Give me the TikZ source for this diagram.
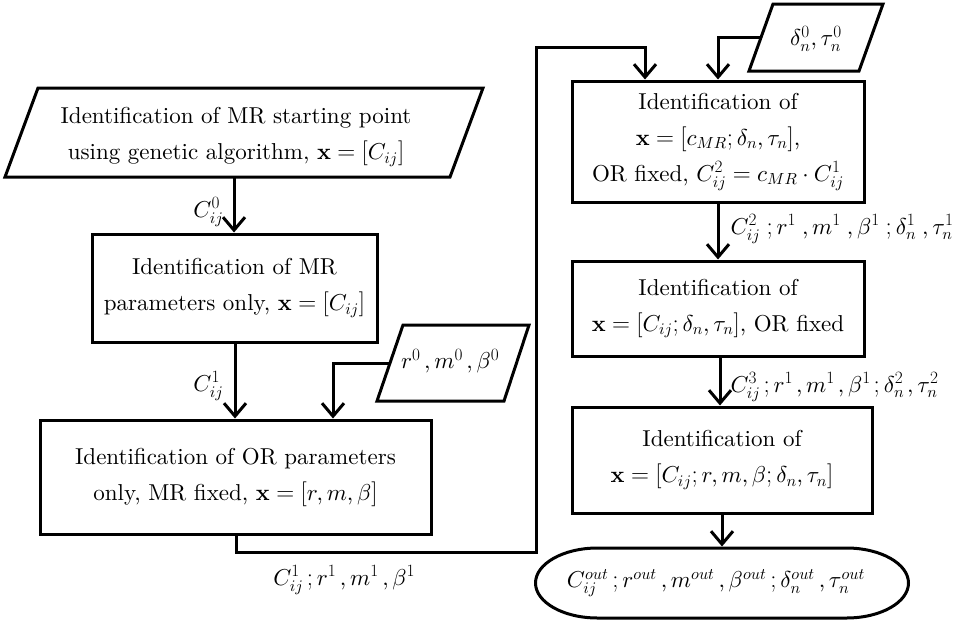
\documentclass[tikz,border=0pt]{standalone}
\usepackage{fontspec}
\setmainfont{lmroman10-regular.otf}[BoldFont=lmroman10-bold.otf, ItalicFont=lmroman10-italic.otf]
\DeclareFontShape{OT1}{cmr}{bx}{n}{<-> cmbx10}{}
\DeclareFontShape{OML}{cmm}{m}{it}{<-> cmmi10}{}
\DeclareFontShape{OMS}{cmsy}{m}{n}{<-> cmsy10}{}
\DeclareFontShape{OMX}{cmex}{m}{n}{<-> cmex10}{}
\newcommand\widescripts[1]{\scriptspace=#1\relax}
\usetikzlibrary{arrows.meta}
\begin{document}
\begin{tikzpicture}[x=1pt,y=-1pt, line width=3pt, line join=miter,
  every node/.style={font=\fontsize{23}{36}\selectfont},
  box/.style={draw, rectangle, align=center, inner sep=0pt},
  para/.style={draw},
  lbl/.style={inner sep=1pt},
  arr/.style={-{Straight Barb[length=13pt,width=22pt]}}]
\useasboundingbox (0,0) rectangle (958,621);

% parallelogram 1
\coordinate (p1a) at (38,88);
\coordinate (p1b) at (483,88);
\coordinate (p1c) at (450,177);
\coordinate (p1d) at (5,177);
\draw[para] (p1a) -- (p1b) -- (p1c) -- (p1d) -- cycle;
\node[align=center] (p1) at (236,137) {Identification of MR starting point\\using genetic algorithm, $\mathbf{x}=[C_{ij}]$};
\coordinate (p1s) at (234,177);

% parallelogram r0
\coordinate (p2a) at (403,325);
\coordinate (p2b) at (529,325);
\coordinate (p2c) at (504,401);
\coordinate (p2d) at (377,401);
\draw[para] (p2a) -- (p2b) -- (p2c) -- (p2d) -- cycle;
\node (p2) at (452,361) {\widescripts{4pt}$r^0,m^0,\beta^0$};
\coordinate (p2w) at (390,363);

% parallelogram delta0
\coordinate (p3a) at (773,4);
\coordinate (p3b) at (883,4);
\coordinate (p3c) at (859,71);
\coordinate (p3d) at (749,71);
\draw[para] (p3a) -- (p3b) -- (p3c) -- (p3d) -- cycle;
\node (p3) at (816,39) {$\delta^0_n,\tau^0_n$};
\coordinate (p3w) at (761,37);

% boxes
\node[box, minimum width=285pt, minimum height=108pt] (b2) at (234.5,288) {Identification of MR\\parameters only, $\mathbf{x}=[C_{ij}]$};
\node[box, minimum width=391pt, minimum height=114pt] (b3) at (235.5,477) {Identification of OR parameters\\only, MR fixed, $\mathbf{x}=[r,m,\beta]$};
\node[box, minimum width=292pt, minimum height=121pt] (b4) at (718,141.5) {Identification of\\$\mathbf{x}=[c_{MR};\delta_n,\tau_n]$,\\OR fixed, $C^2_{ij}=c_{MR}\cdot C^1_{ij}$};
\node[box, minimum width=292pt, minimum height=95pt] (b5) at (718,308.5) {Identification of\\$\mathbf{x}=[C_{ij};\delta_n,\tau_n]$, OR fixed};
\node[box, minimum width=300pt, minimum height=106pt] (b6) at (722,460) {Identification of\\$\mathbf{x}=[C_{ij};r,m,\beta;\delta_n,\tau_n]$};
\node[minimum width=373pt, minimum height=70pt, inner sep=0pt] (out) at (718,583) {\widescripts{4.5pt}$C^{out}_{ij};r^{out},m^{out},\beta^{out};\delta^{out}_n,\tau^{out}_n$};
\draw (597.5,548) -- (846.5,548) .. controls (880.7,548) and (908.5,563.7) .. (908.5,583)
  .. controls (908.5,602.3) and (880.7,618) .. (846.5,618) -- (597.5,618)
  .. controls (563.3,618) and (535.5,602.3) .. (535.5,583)
  .. controls (535.5,563.7) and (563.3,548) .. (597.5,548) -- cycle;

% connectors
\draw[arr] (p1s) -- (p1s |- b2.north);
\coordinate (b2s) at (235,342);
\draw[arr] (b2.south -| b2s) -- (b2s |- b3.north);
\coordinate (j1) at (333,363);
\draw[arr] (p2w) -- (j1) -- (j1 |- b3.north);
\coordinate (b3s) at (236,534);
\coordinate (c1) at (236,552);
\coordinate (c2) at (536,552);
\coordinate (c3) at (536,47);
\coordinate (c4) at (645,47);
\draw[arr] (b3.south -| b3s) -- (c1) -- (c2) -- (c3) -- (c4) -- (c4 |- b4.north);
\coordinate (j2) at (718,37);
\draw[arr] (p3w) -- (j2) -- (j2 |- b4.north);
\draw[arr] (b4.south) -- (b5.north);
\coordinate (b5s) at (720,356);
\draw[arr] (b5.south -| b5s) -- (b5s |- b6.north);
\coordinate (b6s) at (722,513);
\draw[arr] (b6.south -| b6s) -- (b6s |- out.north);

% labels
\node[lbl, anchor=east] (l0) at (226,212) {$C^0_{ij}$};
\node[lbl, anchor=east] (l1) at (226,386) {$C^1_{ij}$};
\node[lbl] (l2) at (346,580) {\widescripts{4pt}$C^1_{ij};r^1,m^1,\beta^1$};
\node[lbl, anchor=west] (l3) at (728,229) {\widescripts{6.5pt}$C^2_{ij};r^1,m^1,\beta^1;\delta^1_n,\tau^1_n$};
\node[lbl, anchor=west] (l4) at (728,387) {\widescripts{3.5pt}$C^3_{ij};r^1,m^1,\beta^1;\delta^2_n,\tau^2_n$};
\end{tikzpicture}
\end{document}
